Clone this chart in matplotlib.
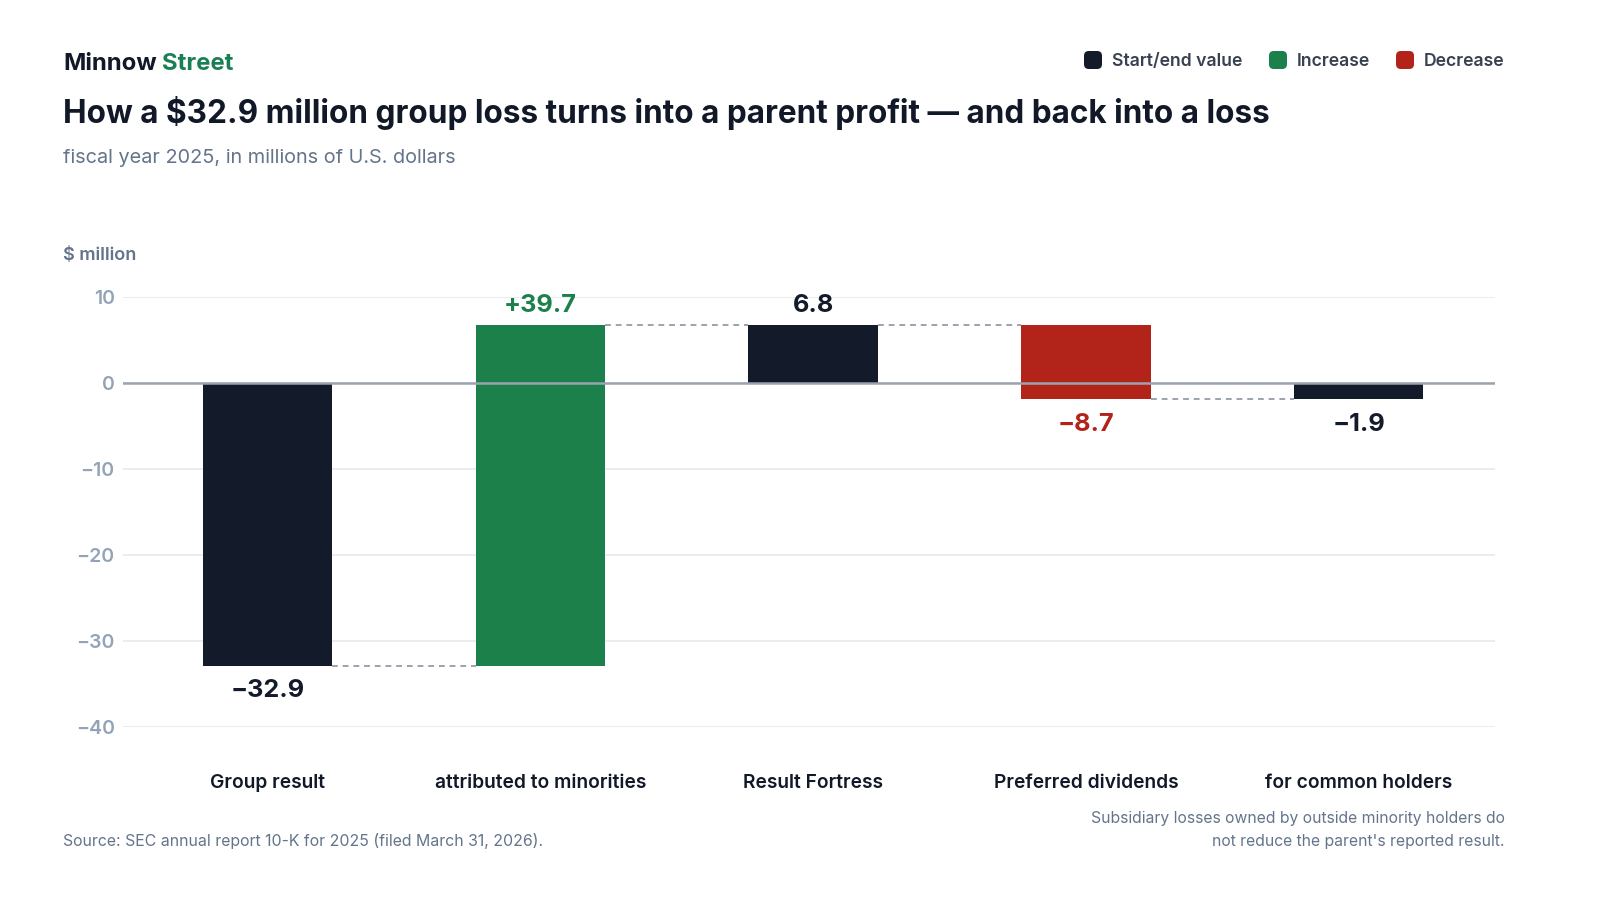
import matplotlib
matplotlib.use("Agg")
import matplotlib.pyplot as plt
from matplotlib.patches import FancyBboxPatch

# ---- data ----
categories = ["Group result", "attributed to minorities", "Result Fortress",
              "Preferred dividends", "for common holders"]
values = [-32.9, 39.7, 6.8, -8.7, -1.9]
kinds = ["total", "increase", "total", "decrease", "total"]
value_labels = ["\u221232.9", "+39.7", "6.8", "\u22128.7", "\u22121.9"]
yticks = [10, 0, -10, -20, -30, -40]
ytick_labels = ["10", "0", "\u221210", "\u221220", "\u221230", "\u221240"]

DARK = "#131a29"
GREEN = "#1b804a"
RED = "#b2231a"
colors = {"total": DARK, "increase": GREEN, "decrease": RED}

plt.rcParams["font.family"] = ["Inter", "DejaVu Sans"]

W, H = 1600, 900
fig = plt.figure(figsize=(16, 9), dpi=100)
fig.patch.set_facecolor("white")

def fx(px):
    return px / W

def fy(py):
    return 1 - py / H

ax = fig.add_axes([fx(123), fy(727), fx(1495) - fx(123), fy(297) - fy(727)])

# compute waterfall geometry
bottoms, heights, ends = [], [], []
running = 0.0
for v, k in zip(values, kinds):
    if k == "total":
        bottoms.append(0.0)
        heights.append(v)
        running = v
    else:
        bottoms.append(running)
        heights.append(v)
        running = running + v
    ends.append(running)

xs = list(range(len(categories)))
bw = 0.475
for x, b, h, k in zip(xs, bottoms, heights, kinds):
    ax.bar(x, h, bottom=b, width=bw, color=colors[k], zorder=3, linewidth=0)

# connectors
for i in range(len(xs) - 1):
    ax.plot([xs[i] + bw / 2, xs[i + 1] - bw / 2], [ends[i], ends[i]],
            color="#9ca3af", lw=1.4, ls=(0, (3, 2.5)), zorder=2)

# value labels
for x, b, h, k, lab in zip(xs, bottoms, heights, kinds, value_labels):
    top = max(b, b + h)
    bot = min(b, b + h)
    col = colors[k]
    if h >= 0:
        ax.annotate(lab, (x, top), xytext=(0, 14), textcoords="offset points",
                    ha="center", va="center", fontsize=18.2, fontweight="bold",
                    color=col, zorder=5)
    else:
        ax.annotate(lab, (x, bot), xytext=(0, -18), textcoords="offset points",
                    ha="center", va="center", fontsize=18.2, fontweight="bold",
                    color=col, zorder=5)

ax.set_xlim(-0.53, 4.5)
ax.set_ylim(-40, 10)
ax.set_yticks(yticks)
ax.set_yticklabels(ytick_labels)
ax.set_xticks(xs)
ax.set_xticklabels(categories)
ax.tick_params(axis="y", length=0, pad=6, labelsize=14, labelcolor="#94a3b8")
ax.tick_params(axis="x", length=0, pad=34, labelsize=13.8, labelcolor="#111827")
for t in ax.get_yticklabels():
    t.set_fontweight("semibold")
for t in ax.get_xticklabels():
    t.set_fontweight("semibold")
for s in ax.spines.values():
    s.set_visible(False)
ax.grid(axis="y", color="#e5e7eb", lw=1.1, zorder=0)
ax.set_axisbelow(True)
ax.axhline(0, color="#9ca3af", lw=1.8, zorder=4)

# header
fig.text(fx(63), fy(64), "Minnow", fontsize=17.2, fontweight="bold",
         color="#111827", ha="left", va="center")
fig.text(fx(162), fy(64), "Street", fontsize=17.2, fontweight="bold",
         color="#1a7f54", ha="left", va="center")
fig.text(fx(63), fy(113),
         "How a $32.9 million group loss turns into a parent profit \u2014 and back into a loss",
         fontsize=22.7, fontweight="bold", color="#111827", ha="left", va="center")
fig.text(fx(63), fy(158), "fiscal year 2025, in millions of U.S. dollars",
         fontsize=14.3, color="#64748b", ha="left", va="center")
fig.text(fx(63), fy(255), "$ million", fontsize=13, fontweight="semibold",
         color="#64748b", ha="left", va="center")

# legend
legend_items = [("Start/end value", DARK, 1084), ("Increase", GREEN, 1269),
                ("Decrease", RED, 1396)]
for lab, col, px in legend_items:
    sq = FancyBboxPatch((fx(px), fy(69)), fx(18), fy(51) - fy(69),
                        boxstyle="round,pad=0,rounding_size=0.003",
                        transform=fig.transFigure, facecolor=col,
                        edgecolor="none", mutation_aspect=16 / 9)
    fig.patches.append(sq)
    fig.text(fx(px + 28), fy(62), lab, fontsize=12.7, fontweight="semibold",
             color="#374151", ha="left", va="center")

# footer
fig.text(fx(63), fy(841), "Source: SEC annual report 10-K for 2025 (filed March 31, 2026).",
         fontsize=11.4, color="#64748b", ha="left", va="center")
fig.text(fx(1505), fy(830),
         "Subsidiary losses owned by outside minority holders do\nnot reduce the parent's reported result.",
         fontsize=11.3, color="#64748b", ha="right", va="center", linespacing=1.65)

fig.savefig("out.png", dpi=100, facecolor="white")
